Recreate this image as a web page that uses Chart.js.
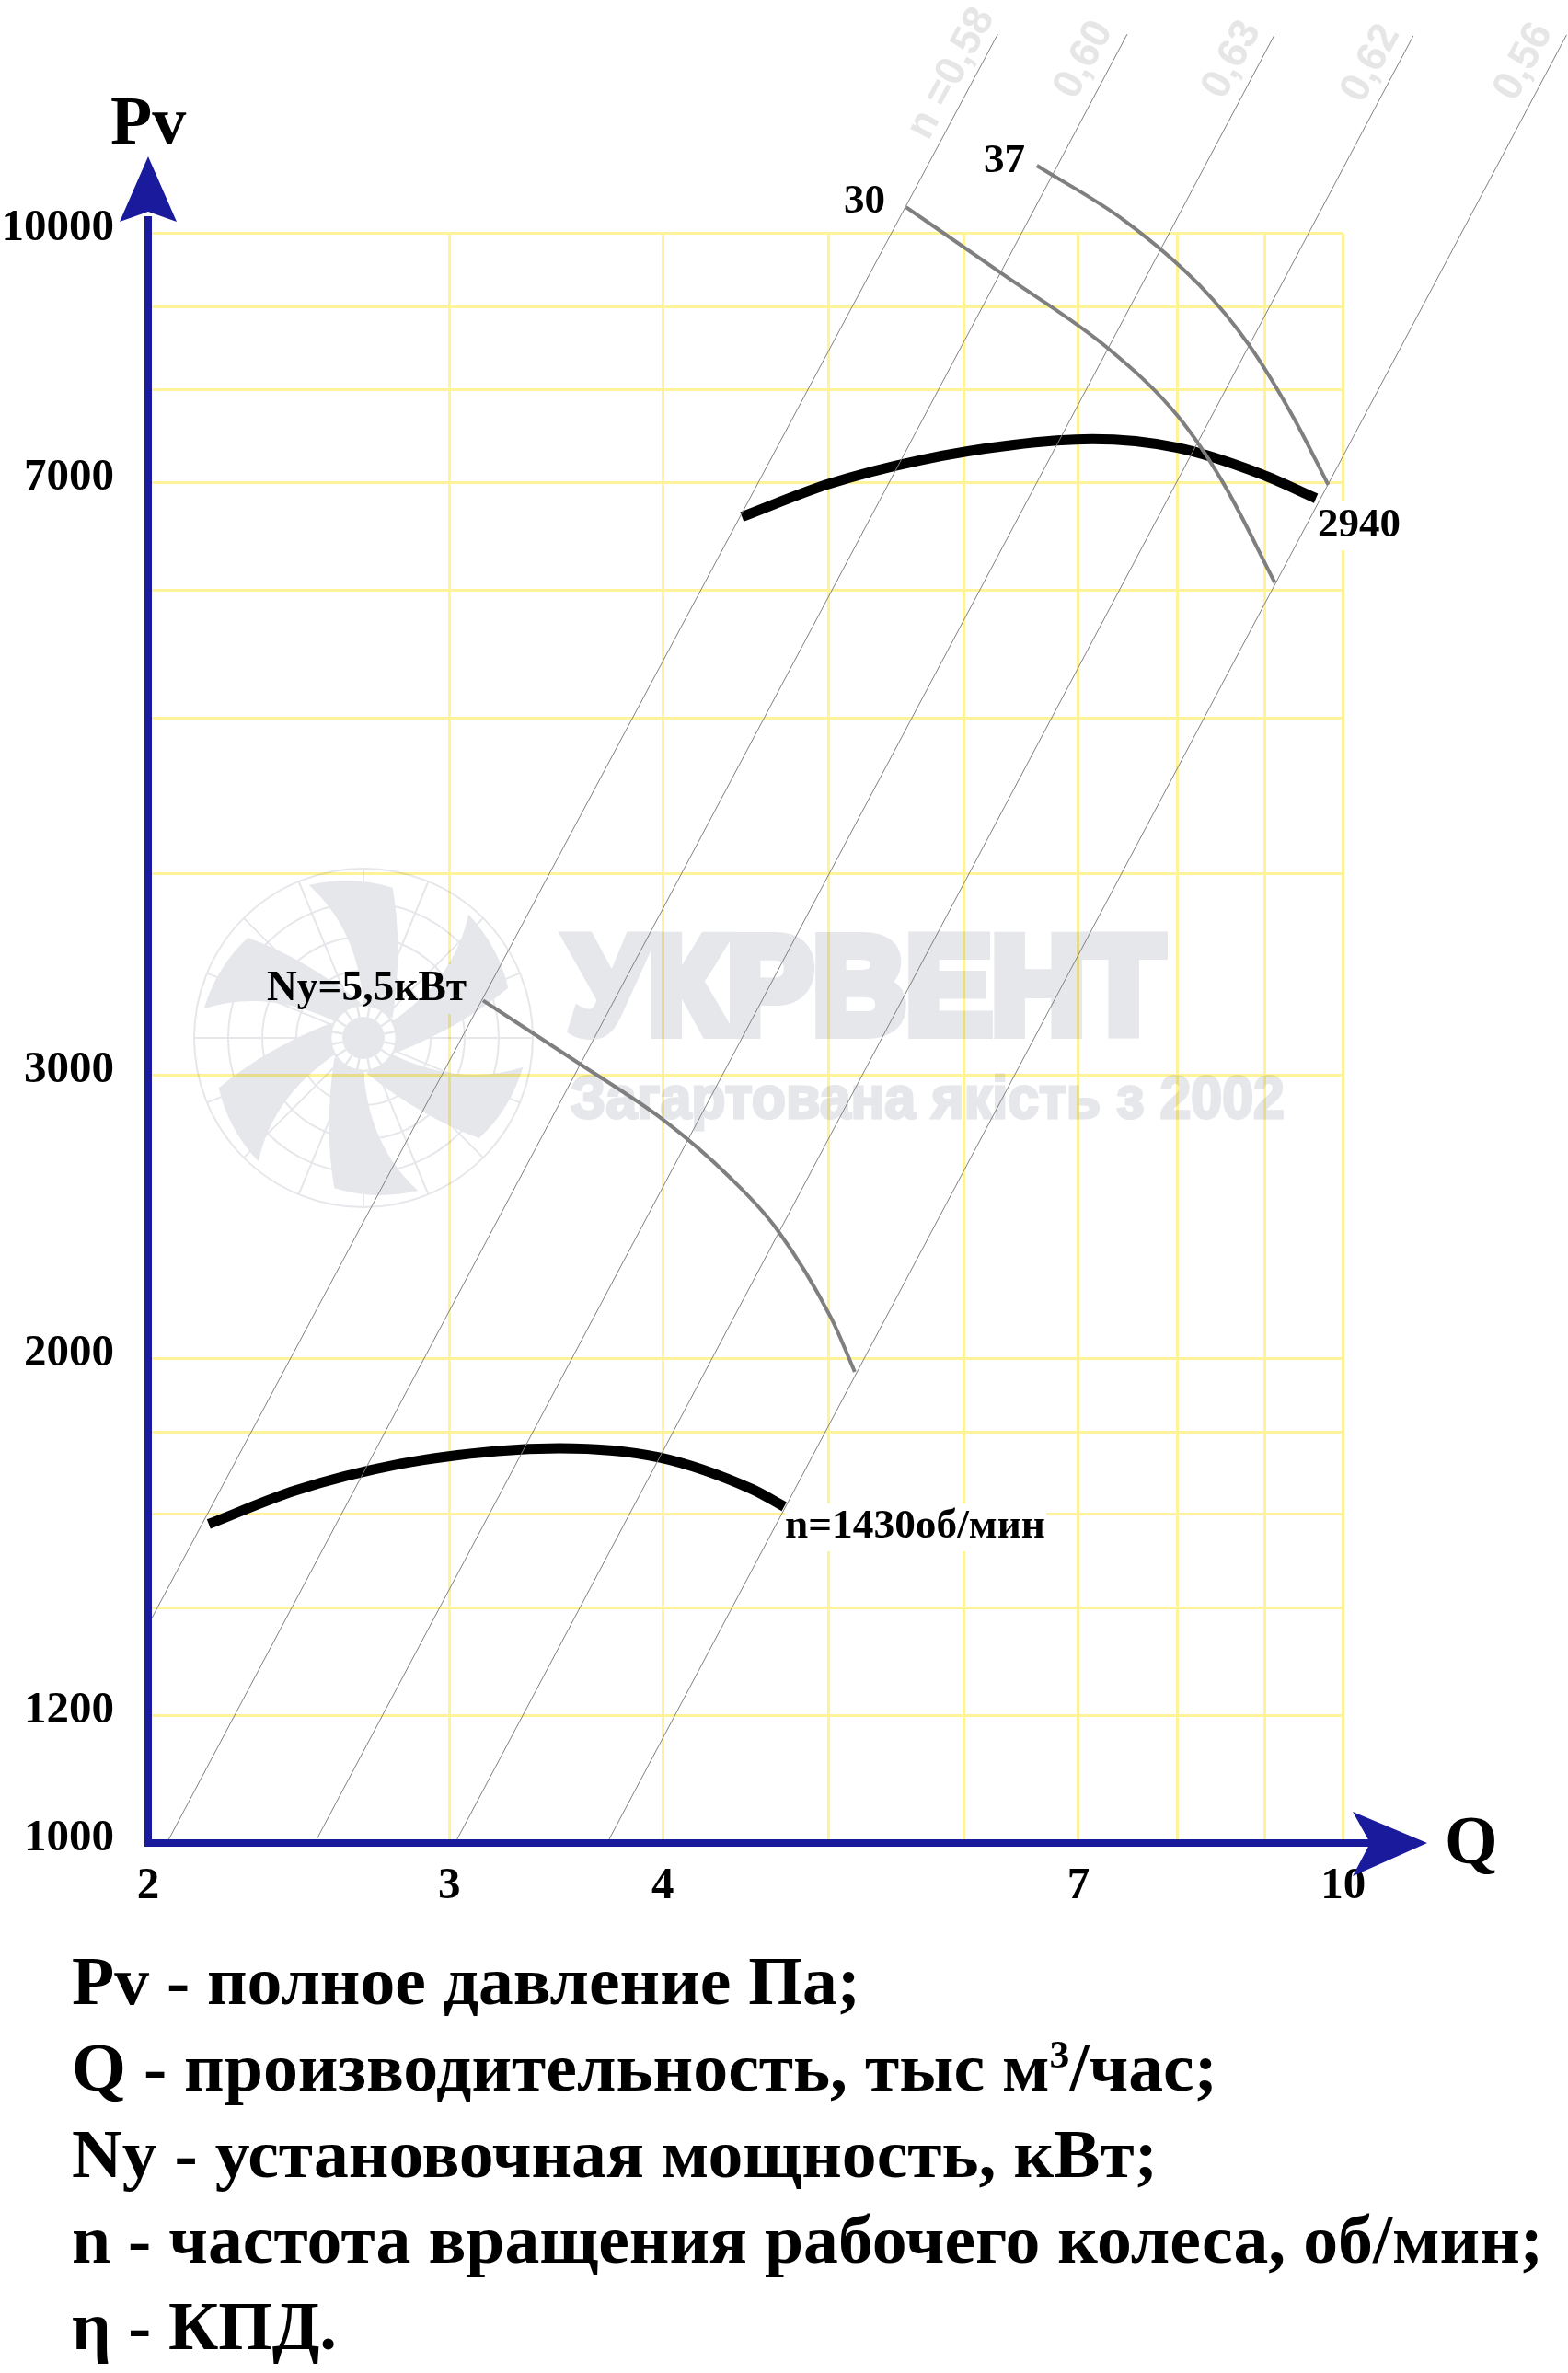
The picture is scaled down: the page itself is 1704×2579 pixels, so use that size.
<!DOCTYPE html>
<html lang="ru">
<head>
<meta charset="utf-8">
<title>Pv-Q</title>
<script src="https://cdn.jsdelivr.net/npm/chart.js@4"></script>
<style>
  html, body { margin: 0; padding: 0; background: #fff; }
  canvas { display: block; }
</style>
</head>
<body>
<canvas id="chart" width="1704" height="2579"></canvas>
<script>
// axes
const xGrid = [2, 3, 4, 5, 6, 7, 8, 9, 10];
const yGrid = [1000, 1200, 1400, 1600, 1800, 2000, 3000, 4000, 5000, 6000, 7000, 8000, 9000, 10000];
const xTickLabels = [2, 3, 4, 7, 10];
const yTickLabels = [1000, 1200, 2000, 3000, 7000, 10000];

// fan curves: Q, Pv
const q1430 = [2.17, 2.44, 2.81, 3.20, 3.48, 3.98, 4.51, 4.71];
const p1430 = [1578, 1656, 1720, 1752, 1759, 1736, 1659, 1618];
const q2940 = [4.45, 5.00, 5.66, 6.40, 7.13, 8.00, 8.95, 9.64];
const p2940 = [6667, 6987, 7230, 7387, 7449, 7358, 7088, 6845];

// power curves
const qNy55 = [3.14, 3.58, 4.00, 4.38, 4.66, 5.02, 5.18];
const pNy55 = [3337, 3046, 2815, 2590, 2409, 2117, 1962];
const qNy30 = [5.55, 6.31, 7.29, 8.01, 8.52, 9.12];
const pNy30 = [10383, 9445, 8478, 7691, 6979, 6068];
const qNy37 = [6.62, 7.44, 8.24, 8.81, 9.36, 9.80];
const pNy37 = [11017, 10193, 9285, 8522, 7672, 6979];

// efficiency lines: start and end of each
const etaNames = ['n =0,58', '0,60', '0,63', '0,62', '0,56'];
const etaQ = [[2, 6.28], [2.051, 7.476], [2.503, 9.11], [3.024, 10.99], [3.711, 13.51]];
const etaP = [[1366, 13297], [1000, 13297], [1000, 13265], [1000, 13265], [1000, 13283]];

const legendRows = [
  'Pv - полное давление Па;',
  ['Q - производительность, тыс м', '3', '/час;'],
  'Ny - установочная мощность, кВт;',
  'n - частота вращения рабочего колеса, об/мин;',
  'η - КПД.'
];

const SERIF = '"Liberation Serif", serif';
const SANS = '"Liberation Sans", sans-serif';
const BLUE = '#1a1a9c';
const YELLOW = '#fff39a';
const WATERMARK = '#e6e7eb';

const toPoints = (xs, ys) => xs.map((x, i) => ({ x, y: ys[i] }));

const curve = (xs, ys, color, width) => ({
  data: toPoints(xs, ys),
  borderColor: color,
  borderWidth: width,
  pointRadius: 0,
  showLine: true,
  cubicInterpolationMode: 'monotone',
  clip: false
});

// squeeze a string to a given width, the source text is slightly condensed
function fitText(ctx, text, x, y, font, width) {
  ctx.save();
  ctx.font = font;
  ctx.textAlign = 'left';
  ctx.translate(x, y);
  ctx.scale(width / ctx.measureText(text).width, 1);
  ctx.fillText(text, 0, 0);
  ctx.restore();
}

function drawFan(ctx, cx, cy) {
  ctx.save();
  ctx.translate(cx, cy);
  ctx.strokeStyle = WATERMARK;
  ctx.fillStyle = WATERMARK;
  ctx.lineWidth = 2;
  [184, 147, 110, 73].forEach(r => {
    ctx.beginPath();
    ctx.arc(0, 0, r, 0, Math.PI * 2);
    ctx.stroke();
  });
  for (let i = 0; i < 16; i++) {
    const a = i * Math.PI / 8;
    ctx.beginPath();
    ctx.moveTo(Math.cos(a) * 24, Math.sin(a) * 24);
    ctx.lineTo(Math.cos(a) * 184, Math.sin(a) * 184);
    ctx.stroke();
  }
  for (let i = 0; i < 6; i++) {
    ctx.save();
    ctx.rotate(i * Math.PI / 3);
    ctx.beginPath();
    ctx.moveTo(-59.3, -166);
    ctx.quadraticCurveTo(-12, -177, 31.7, -163.3);
    ctx.quadraticCurveTo(43, -98, 31.7, -21.7);
    ctx.lineTo(0, -35);
    ctx.quadraticCurveTo(-6, -118, -59.3, -166);
    ctx.closePath();
    ctx.fill();
    ctx.restore();
  }
  // hub
  ctx.fillStyle = '#fff';
  ctx.beginPath();
  ctx.arc(0, 0, 35, 0, Math.PI * 2);
  ctx.fill();
  ctx.lineWidth = 2.5;
  ctx.beginPath();
  ctx.arc(0, 0, 36, 0, Math.PI * 2);
  ctx.stroke();
  for (let i = 0; i < 16; i++) {
    const a = i * Math.PI / 8 + Math.PI / 16;
    ctx.beginPath();
    ctx.moveTo(Math.cos(a) * 23, Math.sin(a) * 23);
    ctx.lineTo(Math.cos(a) * 36, Math.sin(a) * 36);
    ctx.stroke();
  }
  ctx.fillStyle = WATERMARK;
  ctx.beginPath();
  ctx.arc(0, 0, 23, 0, Math.PI * 2);
  ctx.fill();
  ctx.restore();
}

// the logo is drawn flat on its own layer so overlaps do not darken
function drawWatermark(ctx, w, h) {
  const layer = document.createElement('canvas');
  layer.width = w;
  layer.height = h;
  const c = layer.getContext('2d');
  drawFan(c, 395, 1128);
  c.fillStyle = WATERMARK;
  c.strokeStyle = WATERMARK;
  c.lineJoin = 'miter';

  c.font = 'bold 148px ' + SANS;
  c.save();
  c.translate(618, 1121.5);
  c.scale(646 / c.measureText('УКРВЕНТ').width, 1);
  c.lineWidth = 14;
  c.strokeText('УКРВЕНТ', 0, 0);
  c.fillText('УКРВЕНТ', 0, 0);
  c.restore();

  c.font = 'bold 65px ' + SANS;
  c.save();
  c.translate(620, 1215);
  c.scale(776 / c.measureText('Загартована якість з 2002').width, 1);
  c.lineWidth = 3;
  c.strokeText('Загартована якість з 2002', 0, 0);
  c.fillText('Загартована якість з 2002', 0, 0);
  c.restore();

  ctx.save();
  ctx.globalCompositeOperation = 'multiply';
  ctx.drawImage(layer, 0, 0);
  ctx.restore();
}

const decorPlugin = {
  id: 'decor',
  beforeDraw(chart) {
    const ctx = chart.ctx;
    ctx.save();
    ctx.fillStyle = '#fff';
    ctx.fillRect(0, 0, chart.width, chart.height);
    ctx.restore();
  },
  beforeDatasetsDraw(chart) {
    const ctx = chart.ctx;
    ctx.save();
    // white plates under the curve labels cut the grid
    ctx.fillStyle = '#fff';
    ctx.fillRect(853, 1634, 284, 52);
    ctx.fillRect(1434, 544, 90, 54);
    ctx.fillRect(290, 1048, 220, 54);
    ctx.restore();
    drawWatermark(ctx, chart.width, chart.height);
  },
  afterDraw(chart) {
    const ctx = chart.ctx;
    const x0 = chart.scales.x.getPixelForValue(2);
    const y0 = chart.scales.y.getPixelForValue(1000);
    ctx.save();

    // axes with arrows
    ctx.strokeStyle = BLUE;
    ctx.fillStyle = BLUE;
    ctx.lineWidth = 8;
    ctx.beginPath();
    ctx.moveTo(x0, 235);
    ctx.lineTo(x0, y0 + 4);
    ctx.moveTo(x0 - 4, y0);
    ctx.lineTo(1495, y0);
    ctx.stroke();
    ctx.beginPath();
    ctx.moveTo(x0, 170);
    ctx.lineTo(x0 + 31, 241);
    ctx.lineTo(x0, 230);
    ctx.lineTo(x0 - 31, 241);
    ctx.closePath();
    ctx.fill();
    ctx.beginPath();
    ctx.moveTo(1551, y0);
    ctx.lineTo(1470, y0 + 36);
    ctx.lineTo(1489, y0);
    ctx.lineTo(1470, y0 - 34);
    ctx.closePath();
    ctx.fill();

    // efficiency labels, turned along their lines
    ctx.fillStyle = '#e6e6e6';
    ctx.font = 'bold 45px ' + SANS;
    ctx.textAlign = 'center';
    ctx.textBaseline = 'middle';
    const etaPos = [[1034, 80], [1178, 65], [1339, 65], [1490, 69], [1656, 67]];
    etaNames.forEach((name, i) => {
      ctx.save();
      ctx.translate(etaPos[i][0], etaPos[i][1]);
      ctx.rotate(-62 * Math.PI / 180);
      ctx.fillText(name, 0, 0);
      ctx.restore();
    });

    // curve labels
    ctx.fillStyle = '#000';
    ctx.textBaseline = 'alphabetic';
    ctx.textAlign = 'left';
    ctx.font = 'bold 45px ' + SERIF;
    ctx.fillText('30', 917, 231);
    ctx.fillText('37', 1069, 187);
    ctx.fillText('2940', 1432, 583);
    fitText(ctx, 'Ny=5,5кВт', 290, 1087, 'bold 46px ' + SERIF, 217);
    fitText(ctx, 'n=1430об/мин', 853, 1671, 'bold 45px ' + SERIF, 283);

    // axis names
    ctx.font = 'bold 74px ' + SERIF;
    ctx.fillText('Pv', 120, 156);
    ctx.fillText('Q', 1570, 2025);

    // notes under the chart
    const font = 'bold 73px ' + SERIF;
    const baselines = [2178, 2272, 2366, 2459, 2553];
    const rights = [935, 1323, 1258, 1677, 366];
    legendRows.forEach((row, i) => {
      if (typeof row === 'string') {
        fitText(ctx, row, 78, baselines[i], font, rights[i] - 78);
      } else {
        ctx.font = font;
        const w0 = ctx.measureText(row[0]).width;
        const w2 = ctx.measureText(row[2]).width;
        ctx.font = 'bold 42px ' + SERIF;
        const w1 = ctx.measureText(row[1]).width;
        const k = (rights[i] - 78) / (w0 + w1 + w2);
        ctx.save();
        ctx.translate(78, baselines[i]);
        ctx.scale(k, 1);
        ctx.font = font;
        ctx.fillText(row[0], 0, 0);
        ctx.fillText(row[2], w0 + w1, 0);
        ctx.font = 'bold 42px ' + SERIF;
        ctx.fillText(row[1], w0, -25);
        ctx.restore();
      }
    });
    ctx.restore();
  }
};

new Chart(document.getElementById('chart').getContext('2d'), {
  type: 'scatter',
  data: {
    datasets: [
      ...etaNames.map((name, i) => ({ ...curve(etaQ[i], etaP[i], '#808080', 1), label: name, cubicInterpolationMode: 'default', tension: 0 })),
      curve(qNy55, pNy55, '#7f7f7f', 4),
      curve(qNy30, pNy30, '#7f7f7f', 4),
      curve(qNy37, pNy37, '#7f7f7f', 4),
      curve(q1430, p1430, '#000', 11),
      curve(q2940, p2940, '#000', 11)
    ]
  },
  options: {
    responsive: false,
    animation: false,
    devicePixelRatio: 1,
    events: [],
    layout: { autoPadding: false, padding: { top: 253.6, right: 244.3, left: 0, bottom: 0 } },
    elements: { line: { capBezierPoints: false } },
    plugins: { legend: { display: false }, tooltip: { enabled: false }, title: { display: false } },
    scales: {
      x: {
        type: 'logarithmic',
        min: 2,
        max: 10,
        afterFit(scale) { scale.height = 576; },
        afterBuildTicks(scale) { scale.ticks = xGrid.map(value => ({ value })); },
        border: { display: false },
        grid: { color: YELLOW, lineWidth: 3, drawTicks: false },
        ticks: {
          autoSkip: false,
          maxRotation: 0,
          minRotation: 0,
          padding: 18,
          color: '#000',
          font: { family: SERIF, size: 49, weight: 'bold' },
          callback: value => (xTickLabels.includes(value) ? String(value) : '')
        }
      },
      y: {
        type: 'logarithmic',
        min: 1000,
        max: 10000,
        afterFit(scale) { scale.width = 161; },
        afterBuildTicks(scale) { scale.ticks = yGrid.map(value => ({ value })); },
        border: { display: false },
        grid: { color: YELLOW, lineWidth: 3, drawTicks: false },
        ticks: {
          autoSkip: false,
          padding: 37,
          labelOffset: -5,
          color: '#000',
          font: { family: SERIF, size: 49, weight: 'bold' },
          callback: value => (yTickLabels.includes(value) ? String(value) : '')
        }
      }
    }
  },
  plugins: [decorPlugin]
});
</script>
</body>
</html>
